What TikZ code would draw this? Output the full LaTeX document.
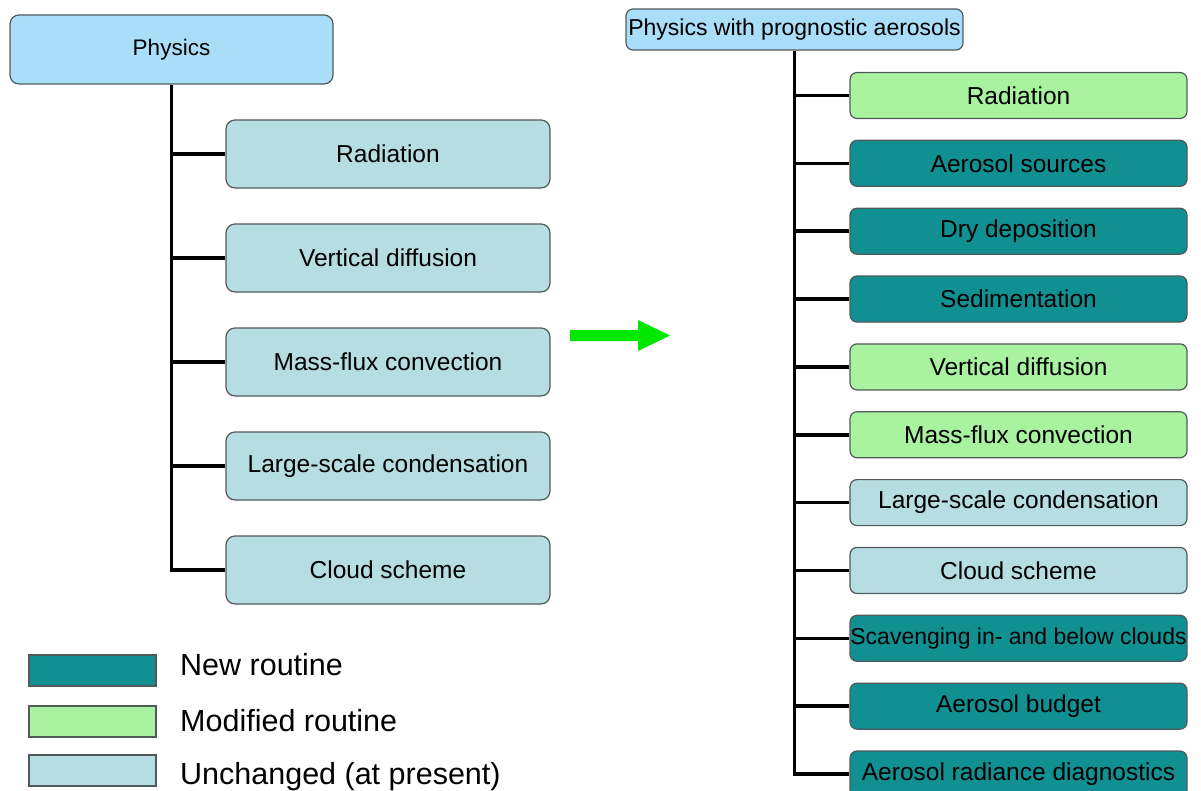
\documentclass[tikz,border=0pt]{standalone}
\usepackage{fontspec}
\setmainfont{Liberation Sans}
\definecolor{topblue}{RGB}{170,222,248}
\definecolor{unch}{RGB}{182,221,226}
\definecolor{modif}{RGB}{168,242,160}
\definecolor{newr}{RGB}{16,144,144}
\definecolor{arrgreen}{RGB}{0,232,0}
\definecolor{edge}{RGB}{80,90,90}
\tikzset{
  box/.style={rectangle, rounded corners=9pt, draw=edge, line width=1.2pt, align=center, inner sep=0pt, font=\fontsize{24.5}{28}\selectfont},
  lbox/.style={box, minimum width=324pt, minimum height=68pt},
  rbox/.style={box, rounded corners=7pt, minimum width=337pt, minimum height=46pt},
  topbox/.style={box, fill=topblue},
  unchanged/.style={fill=unch},
  modified/.style={fill=modif},
  newroutine/.style={fill=newr},
  trunk/.style={line width=3.5pt, black},
  legbox/.style={rectangle, draw=edge, line width=1.2pt, minimum width=127pt, minimum height=31pt, inner sep=0pt},
  legtext/.style={anchor=base west, inner sep=0pt, font=\fontsize{30.5}{34}\selectfont}
}
\begin{document}
\begin{tikzpicture}[x=1pt,y=-1pt]
\useasboundingbox (0,0) rectangle (1201,791);
\clip (0,0) rectangle (1201,791);
% left tree
\node[topbox, minimum width=323pt, minimum height=69pt, font=\fontsize{22.5}{26}\selectfont] (phys) at (171.5,49.5) {Physics};
\node[lbox, unchanged] (lrad) at (388,154) {Radiation};
\node[lbox, unchanged] (lvd) at (388,258) {Vertical diffusion};
\node[lbox, unchanged] (lmf) at (388,362) {Mass-flux convection};
\node[lbox, unchanged] (lls) at (388,466) {Large-scale condensation};
\node[lbox, unchanged] (lcs) at (388,570) {Cloud scheme};
\draw[trunk] (phys.south) |- (lcs.west);
\foreach \n in {lrad,lvd,lmf,lls}{\draw[trunk] (phys.south |- \n.west) -- (\n.west);}
% arrow
\fill[arrgreen] (570,330) -- (638,330) -- (638,320) -- (670,335.5) -- (638,351) -- (638,341) -- (570,341) -- cycle;
% right tree
\node[topbox, rounded corners=7pt, minimum width=337pt, minimum height=41pt, font=\fontsize{23}{26}\selectfont] (pphys) at (794.5,29.5) {Physics with prognostic aerosols};
\node[rbox, modified] (r1) at (1018.5,95.5) {Radiation};
\node[rbox, newroutine] (r2) at (1018.5,163.35) {Aerosol sources};
\node[rbox, newroutine] (r3) at (1018.5,231.2) {Dry deposition};
\node[rbox, newroutine] (r4) at (1018.5,299.05) {Sedimentation};
\node[rbox, modified] (r5) at (1018.5,366.9) {Vertical diffusion};
\node[rbox, modified] (r6) at (1018.5,434.75) {Mass-flux convection};
\node[rbox, unchanged] (r7) at (1018.5,502.6) {Large-scale condensation};
\node[rbox, unchanged] (r8) at (1018.5,570.45) {Cloud scheme};
\node[rbox, newroutine, font=\fontsize{23}{26}\selectfont] (r9) at (1018.5,638.3) {Scavenging in- and below clouds};
\node[rbox, newroutine] (r10) at (1018.5,706.15) {Aerosol budget};
\node[rbox, newroutine] (r11) at (1018.5,774) {Aerosol radiance diagnostics};
\draw[trunk] (pphys.south) |- (r11.west);
\foreach \n in {r1,r2,r3,r4,r5,r6,r7,r8,r9,r10}{\draw[trunk] (pphys.south |- \n.west) -- (\n.west);}
% legend
\node[legbox, fill=newr] (lg1) at (92.5,670.5) {};
\node[legbox, fill=modif] (lg2) at (92.5,721.5) {};
\node[legbox, fill=unch] (lg3) at (92.5,770.5) {};
\node[legtext] (lt1) at (180,675) {New routine};
\node[legtext] (lt2) at (180,731) {Modified routine};
\node[legtext] (lt3) at (180,784) {Unchanged (at present)};
\end{tikzpicture}
\end{document}
